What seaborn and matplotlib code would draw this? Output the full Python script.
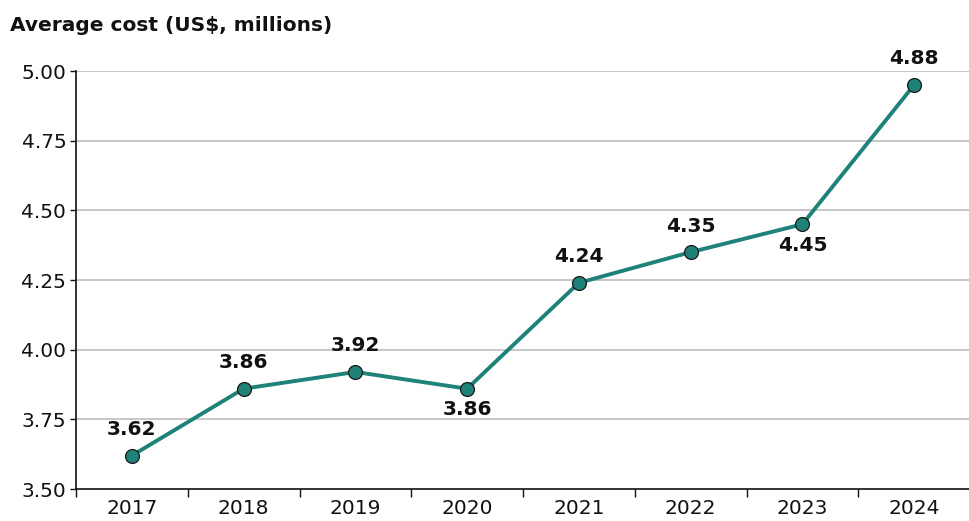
import pandas as pd
import seaborn as sns
import matplotlib.pyplot as plt

years = ['2017', '2018', '2019', '2020', '2021', '2022', '2023', '2024']
# plotted positions (2024 point sits at ~4.95 though labelled 4.88)
avg_cost = [3.62, 3.86, 3.92, 3.86, 4.24, 4.35, 4.45, 4.95]
point_labels = ['3.62', '3.86', '3.92', '3.86', '4.24', '4.35', '4.45', '4.88']
label_below = [False, False, False, True, False, False, True, False]
y_ticks = [3.50, 3.75, 4.00, 4.25, 4.50, 4.75, 5.00]

df = pd.DataFrame({'year': years, 'cost': avg_cost})

sns.set_theme(style='white')
plt.rcParams['font.family'] = ['DejaVu Sans']

teal = '#1f8279'
ink = '#111111'

fig = plt.figure(figsize=(9.7, 5.21), dpi=100)
ax = fig.add_axes([0.0784, 0.0614, 0.9216, 0.8023])

ax.set_axisbelow(True)
for t in y_ticks[1:]:
    ax.axhline(t, color='#bdbdbd', lw=1.2, zorder=0)

sns.lineplot(data=df, x='year', y='cost', ax=ax, sort=False, color=teal,
             lw=2.8, marker='o', markersize=10, markerfacecolor=teal,
             markeredgecolor='#1a1a1a', markeredgewidth=0.9)

for i, (v, lab, below) in enumerate(zip(avg_cost, point_labels, label_below)):
    off = -21 if below else 26
    ax.annotate(lab, (i, v), xytext=(0, off), textcoords='offset pixels',
                ha='center', va='center', fontsize=14.5, fontweight='semibold', color=ink)

ax.set_xlim(-0.5, 7.5)
ax.set_ylim(3.50, 5.00)
ax.set_yticks(y_ticks)
ax.set_yticklabels([f'{t:.2f}' for t in y_ticks])
ax.set_xticks(range(len(years)))
ax.set_xticklabels(years)
ax.tick_params(axis='x', length=0, labelsize=14.5, pad=7, colors=ink)
ax.tick_params(axis='y', length=4, width=1, labelsize=14.5, pad=3, colors=ink, left=True)
# tick marks sit between the categories
ax.set_xticks([i + 0.5 for i in range(-1, 7)], minor=True)
ax.tick_params(axis='x', which='minor', length=6, width=1, bottom=True, color=ink)

for s in ['top', 'right']:
    ax.spines[s].set_visible(False)
for s in ['left', 'bottom']:
    ax.spines[s].set_color(ink)
    ax.spines[s].set_linewidth(1.2)
ax.set_xlabel('')
ax.set_ylabel('')

fig.text(0.0103, 0.952, 'Average cost (US$, millions)', fontsize=14.5, fontweight='semibold',
         ha='left', va='center', color=ink)

fig.savefig('out.png', dpi=100)
